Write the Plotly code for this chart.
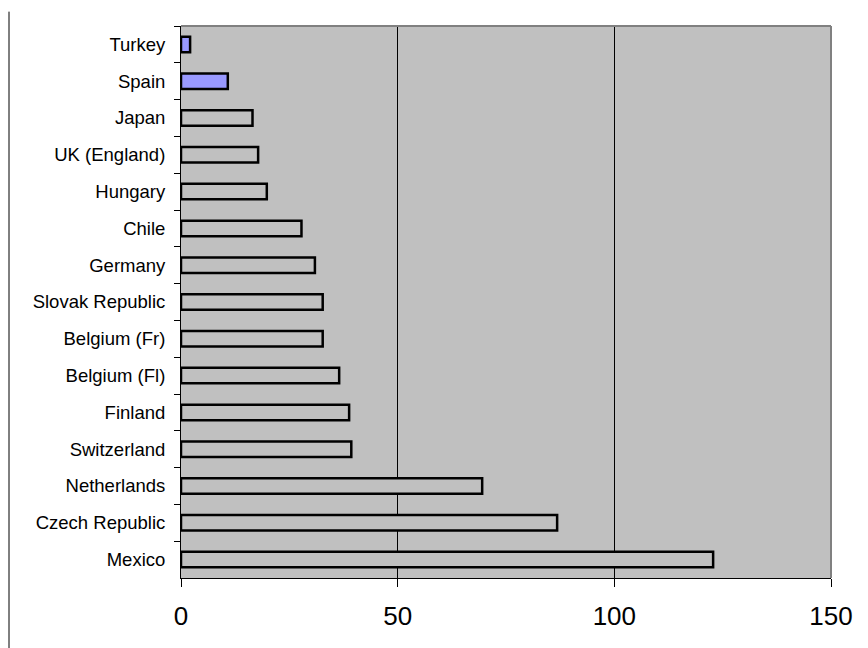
import plotly.graph_objects as go

countries = ["Turkey", "Spain", "Japan", "UK (England)", "Hungary", "Chile", "Germany",
             "Slovak Republic", "Belgium (Fr)", "Belgium (Fl)", "Finland", "Switzerland",
             "Netherlands", "Czech Republic", "Mexico"]
values = [2.1, 10.8, 16.5, 17.8, 19.8, 27.8, 30.9, 32.7, 32.7, 36.5, 38.8, 39.3, 69.5, 86.8, 122.8]
highlight = ["Turkey", "Spain"]
x_ticks = [0, 50, 100, 150]

colors = ["#9999FF" if c in highlight else "#C0C0C0" for c in countries]

fig = go.Figure(go.Bar(
    x=values, y=countries, orientation="h",
    marker=dict(color=colors, line=dict(color="black", width=2.5)),
))

fig.update_layout(
    width=868, height=648,
    margin=dict(l=181, r=37, t=26, b=70, autoexpand=False),
    paper_bgcolor="white", plot_bgcolor="#C0C0C0",
    bargap=0.58, showlegend=False,
    font=dict(family="Liberation Sans, Arial, sans-serif", color="black"),
    xaxis=dict(range=[0, 150], tickvals=x_ticks, showgrid=True, gridcolor="black", gridwidth=1,
               zeroline=False, showline=True, linecolor="black", linewidth=1, automargin=False,
               ticks="outside", ticklen=8, tickcolor="black", tickfont=dict(size=26),
               ticklabelstandoff=7),
    yaxis=dict(categoryorder="array", categoryarray=countries, autorange="reversed",
               showgrid=False, showline=True, linecolor="black", linewidth=1, automargin=False,
               ticks="outside", ticklen=6, tickcolor="black", tickson="boundaries",
               tickfont=dict(size=18.5), ticklabelstandoff=11),
    shapes=[
        dict(type="line", xref="paper", yref="paper", x0=0, x1=1, y0=1, y1=1,
             line=dict(color="#808080", width=2), layer="above"),
        dict(type="line", xref="paper", yref="paper", x0=1, x1=1, y0=0, y1=1,
             line=dict(color="#808080", width=2), layer="above"),
        dict(type="line", xref="paper", yref="paper", x0=-0.2646, x1=-0.2646, y0=1.026, y1=-0.13,
             line=dict(color="black", width=1)),
    ],
)

fig.write_html("out.html", config={"displayModeBar": False},
               post_script="document.body.style.margin='0';")
